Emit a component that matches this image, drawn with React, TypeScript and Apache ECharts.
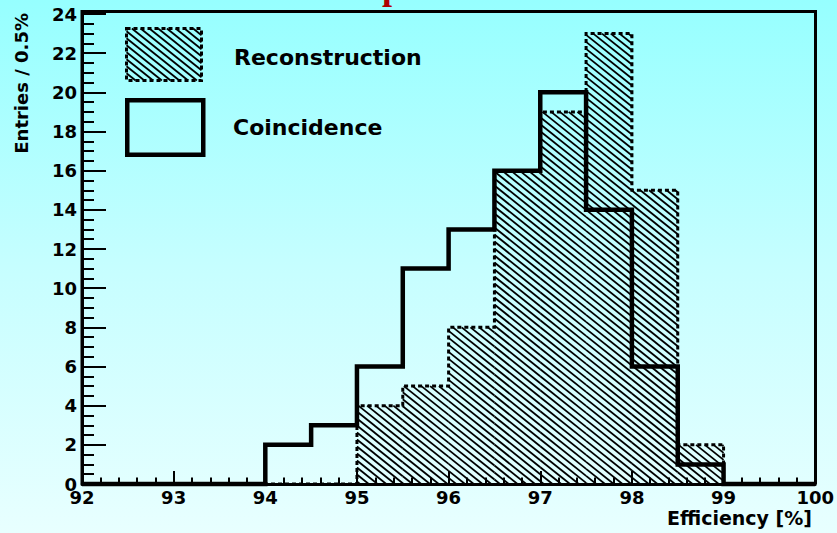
import { useEffect, useRef } from "react";
import * as echarts from "echarts";

// Histogram binning: 16 bins of 0.5% from 92% to 100%
const binStart = 92;
const binWidth = 0.5;
const reconstruction = [0, 0, 0, 0, 0, 0, 4, 5, 8, 16, 19, 23, 15, 2, 0, 0];
const coincidence = [0, 0, 0, 0, 2, 3, 6, 11, 13, 16, 20, 14, 6, 1, 0, 0];
const legendLabels = ["Reconstruction", "Coincidence"];
const xTitle = "Efficiency [%]";
const yTitle = "Entries / 0.5%";

const FONT = '"DejaVu Sans", sans-serif';
const HATCH_SLOPE = 0.8; // screen dy/dx of the "\\\" hatch lines
const HATCH_STEP = 7; // vertical offset between neighbouring hatch lines
const HATCH_WIDTH = 1.8;

// Diagonal hatch segments clipped to a pixel rectangle; the phase is global,
// so neighbouring bars share one continuous pattern.
function hatchSegments(x0: number, y0: number, x1: number, y1: number) {
  const segs: number[][] = [];
  const cMin = y0 - HATCH_SLOPE * x1;
  const cMax = y1 - HATCH_SLOPE * x0;
  for (let c = Math.ceil(cMin / HATCH_STEP) * HATCH_STEP; c <= cMax; c += HATCH_STEP) {
    const xa = Math.max(x0, (y0 - c) / HATCH_SLOPE);
    const xb = Math.min(x1, (y1 - c) / HATCH_SLOPE);
    if (xb - xa > 0.4) segs.push([xa, HATCH_SLOPE * xa + c, xb, HATCH_SLOPE * xb + c]);
  }
  return segs;
}

function hatchGroup(x0: number, y0: number, x1: number, y1: number) {
  return hatchSegments(x0, y0, x1, y1).map((s) => ({
    type: "line",
    shape: { x1: s[0], y1: s[1], x2: s[2], y2: s[3] },
    style: { stroke: "#000", lineWidth: HATCH_WIDTH },
    silent: true,
  }));
}

const binRows = (counts: number[]) =>
  counts
    .map((v, i) => [binStart + i * binWidth, binStart + (i + 1) * binWidth, v])
    .filter((r) => r[2] > 0);

const stepPoints = (counts: number[]) => {
  const pts = counts.map((v, i) => [binStart + i * binWidth, v]);
  pts.push([binStart + counts.length * binWidth, counts[counts.length - 1]]);
  return pts;
};

export default function App() {
  const ref = useRef<HTMLDivElement>(null);

  useEffect(() => {
    const el = ref.current;
    if (!el) return;
    const chart = echarts.init(el, null, { renderer: "svg" });

    const labelStyle = { color: "#000", fontFamily: FONT, fontWeight: "bold" as const, fontSize: 18 };

    const option: any = {
      animation: false,
      backgroundColor: "transparent",
      grid: { left: 82, right: 21.5, top: 14, bottom: 49, show: false },
      xAxis: {
        type: "value",
        min: 92,
        max: 100,
        interval: 1,
        axisLine: { show: true, onZero: false, lineStyle: { color: "#000", width: 3 } },
        axisTick: { show: true, inside: true, length: 13, lineStyle: { color: "#000", width: 2 } },
        minorTick: { show: true, splitNumber: 5, length: 6.5, lineStyle: { color: "#000", width: 2 } },
        splitLine: { show: false },
        axisLabel: { ...labelStyle, margin: 4 },
      },
      yAxis: {
        type: "value",
        min: 0,
        max: 24,
        interval: 2,
        axisLine: { show: true, onZero: false, lineStyle: { color: "#000", width: 3 } },
        axisTick: { show: true, inside: true, length: 24, lineStyle: { color: "#000", width: 2 } },
        minorTick: { show: true, splitNumber: 4, length: 12, lineStyle: { color: "#000", width: 2 } },
        splitLine: { show: false },
        axisLabel: { ...labelStyle, margin: 5 },
      },
      series: [
        {
          name: legendLabels[0],
          type: "custom",
          z: 2,
          clip: true,
          encode: { x: [0, 1], y: 2 },
          data: binRows(reconstruction),
          renderItem: (_params: any, api: any) => {
            const lo = api.value(0);
            const hi = api.value(1);
            const n = api.value(2);
            const a = api.coord([lo, n]);
            const b = api.coord([hi, 0]);
            return { type: "group", children: hatchGroup(a[0], a[1], b[0], b[1]) };
          },
        },
        {
          name: legendLabels[0] + " outline",
          type: "line",
          z: 3,
          step: "end",
          clip: false,
          showSymbol: false,
          silent: true,
          data: stepPoints(reconstruction),
          lineStyle: { color: "#000", width: 3, type: [4, 3], join: "miter", cap: "butt" },
        },
        {
          name: legendLabels[1],
          type: "line",
          z: 4,
          step: "end",
          clip: false,
          showSymbol: false,
          silent: true,
          data: stepPoints(coincidence),
          lineStyle: { color: "#000", width: 4.5, join: "miter", cap: "butt" },
        },
      ],
      graphic: [
        // frame around the plot area
        {
          type: "polyline",
          z: 5,
          silent: true,
          shape: { points: [[82, 484], [82, 11.5], [815.5, 11.5], [815.5, 484]] },
          style: { stroke: "#000", lineWidth: 3, fill: "none" },
        },
        // legend: hatched entry
        {
          type: "group",
          z: 6,
          children: [
            ...hatchGroup(126.5, 28.5, 201.5, 80.5),
            {
              type: "rect",
              shape: { x: 126.5, y: 28.5, width: 75, height: 52 },
              style: { fill: "none", stroke: "#000", lineWidth: 3, lineDash: [4, 3] },
            },
          ],
        },
        // legend: outline entry
        {
          type: "rect",
          z: 6,
          shape: { x: 127.25, y: 100.25, width: 76, height: 54.5 },
          style: { fill: "none", stroke: "#000", lineWidth: 4.5 },
        },
        {
          type: "text",
          z: 6,
          x: 234,
          y: 57,
          style: {
            text: legendLabels[0],
            font: `bold 22px ${FONT}`,
            fill: "#000",
            textAlign: "left",
            textVerticalAlign: "middle",
          },
        },
        {
          type: "text",
          z: 6,
          x: 233,
          y: 127,
          style: {
            text: legendLabels[1],
            font: `bold 22px ${FONT}`,
            fill: "#000",
            textAlign: "left",
            textVerticalAlign: "middle",
          },
        },
        // axis titles
        {
          type: "text",
          z: 6,
          x: 812,
          y: 508,
          style: {
            text: xTitle,
            font: `bold 19px ${FONT}`,
            fill: "#000",
            textAlign: "right",
            textVerticalAlign: "top",
          },
        },
        {
          type: "text",
          z: 6,
          x: 21.5,
          y: 13,
          rotation: Math.PI / 2,
          style: {
            text: yTitle,
            font: `bold 18px ${FONT}`,
            fill: "#000",
            textAlign: "right",
            textVerticalAlign: "middle",
          },
        },
        // foot of the slide title glyph above the frame
        {
          type: "text",
          z: 6,
          x: 382,
          y: 5,
          style: {
            text: "p",
            font: 'bold 36px "Liberation Serif", serif',
            fill: "#b00000",
            textAlign: "left",
            textVerticalAlign: "bottom",
          },
        },
      ],
    };

    chart.setOption(option);
    return () => chart.dispose();
  }, []);

  return (
    <div
      ref={ref}
      style={{
        position: "fixed",
        left: 0,
        top: 0,
        width: 837,
        height: 533,
        background: "linear-gradient(to bottom, #96ffff 0%, #c6feff 50%, #e8ffff 100%)",
      }}
    />
  );
}
